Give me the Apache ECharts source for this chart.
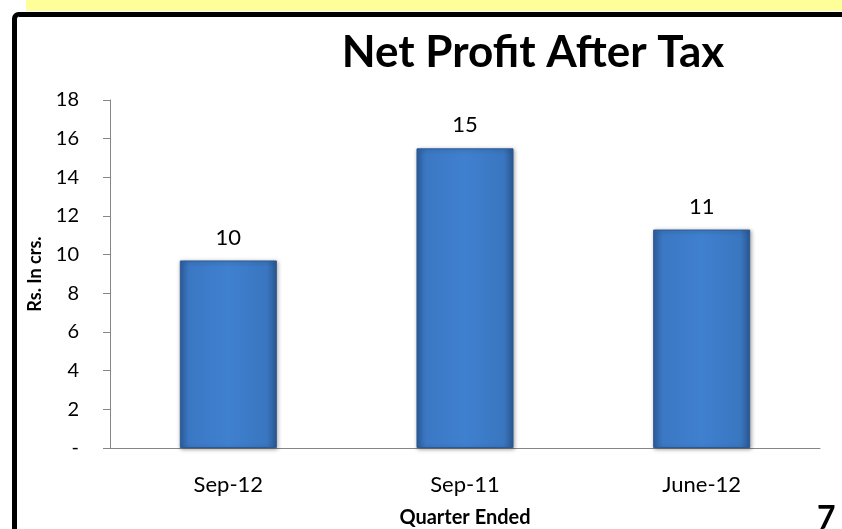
<!DOCTYPE html>
<html>
<head>
<meta charset="utf-8">
<script src="https://cdn.jsdelivr.net/npm/echarts@6/dist/echarts.min.js"></script>
<style>
  html, body { margin: 0; padding: 0; background: #fff; }
  #chart { width: 842px; height: 529px; }
</style>
</head>
<body>
<div id="chart"></div>
<script>
// quarters and net profit (Rs. in crs.)
var quarters = ["Sep-12", "Sep-11", "June-12"];
var profit = [9.7, 15.5, 11.3];
var labels = ["10", "15", "11"];
var yTicks = [0, 2, 4, 6, 8, 10, 12, 14, 16, 18];

var chart = echarts.init(document.getElementById("chart"));

var font = "Lato, 'Open Sans', sans-serif";

var option = {
  animation: false,
  backgroundColor: "#fff",
  title: {
    text: "Net Profit After Tax",
    left: 528,
    textAlign: "center",
    top: 26,
    textStyle: { fontFamily: font, fontSize: 44, fontWeight: "bold", color: "#000" }
  },
  grid: { left: 110, right: 22, top: 100, bottom: 81, outerBoundsMode: "none", containLabel: false },
  xAxis: {
    type: "category",
    data: quarters,
    name: "Quarter Ended",
    nameLocation: "middle",
    nameGap: 60,
    nameTextStyle: { fontFamily: font, fontSize: 20, fontWeight: "bold", color: "#000" },
    axisLine: { lineStyle: { color: "#868686" } },
    axisTick: { length: 7, lineStyle: { color: "#868686" } },
    axisLabel: { fontFamily: font, fontSize: 22, color: "#000", margin: 26 }
  },
  yAxis: {
    type: "value",
    min: 0,
    max: 18,
    interval: 2,
    name: "Rs. In crs.",
    nameLocation: "middle",
    nameGap: 66,
    nameTextStyle: { fontFamily: font, fontSize: 18, fontWeight: "bold", color: "#000" },
    axisLine: { show: true, lineStyle: { color: "#868686" } },
    axisTick: { show: true, length: 7, lineStyle: { color: "#868686" } },
    splitLine: { show: false },
    axisLabel: {
      fontFamily: font, fontSize: 20, color: "#000", margin: 31,
      formatter: function (v) { return v === 0 ? "-" : String(v); }
    }
  },
  series: [{
    type: "bar",
    data: profit,
    barWidth: "41%",
    itemStyle: {
      color: new echarts.graphic.LinearGradient(0, 0, 1, 0, [
        { offset: 0, color: "#2e5f9f" },
        { offset: 0.1, color: "#3b78c4" },
        { offset: 0.5, color: "#3f80cf" },
        { offset: 0.9, color: "#3a76c0" },
        { offset: 1, color: "#2b5892" }
      ]),
      borderColor: "#2c5a94",
      borderWidth: 1,
      shadowColor: "rgba(0,0,0,0.35)",
      shadowBlur: 4,
      shadowOffsetX: 1,
      shadowOffsetY: 1
    },
    label: {
      show: true,
      position: "top",
      distance: 12,
      fontFamily: font,
      fontSize: 22,
      color: "#000",
      formatter: function (p) { return labels[p.dataIndex]; }
    }
  }],
  graphic: [
    { type: "rect", shape: { x: 26, y: 0, width: 816, height: 11 }, style: { fill: "#ffff99" }, z: 0 },
    { type: "rect", shape: { x: 14.5, y: 14.5, width: 900, height: 600, r: 4 },
      style: { fill: null, stroke: "#000", lineWidth: 5 }, z: 1 },
    { type: "text", left: 817, top: 503,
      style: { text: "7", fontFamily: font, fontSize: 32, fontWeight: "bold", fill: "#000" } }
  ]
};

chart.setOption(option);
</script>
</body>
</html>
